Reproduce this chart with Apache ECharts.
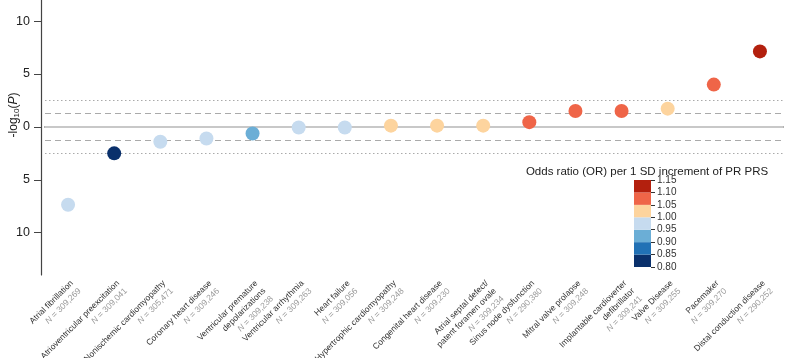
<!DOCTYPE html>
<html>
<head>
<meta charset="utf-8">
<script src="https://cdn.jsdelivr.net/npm/echarts@6/dist/echarts.min.js"></script>
<style>
html,body{margin:0;padding:0;background:#fff;}
#main{width:789px;height:358px;}
</style>
</head>
<body>
<div id="main"></div>
<script>
var categories = [
	'Atrial fibrillation',
	'Atrioventricular preexcitation',
	'Nonischemic cardiomyopathy',
	'Coronary heart disease',
	'Ventricular premature\ndepolarizations',
	'Ventricular arrhythmia',
	'Heart failure',
	'Hypertrophic cardiomyopathy',
	'Congenital heart disease',
	'Atrial septal defect/\npatent foramen ovale',
	'Sinus node dysfunction',
	'Mitral valve prolapse',
	'Implantable cardioverter\ndefibrillator',
	'Valve Disease',
	'Pacemaker',
	'Distal conduction disease'
];
var sampleN = ['309,269', '309,041', '305,471', '309,246', '309,238', '309,263', '309,056', '309,248',
	'309,230', '309,234', '290,380', '309,248', '309,241', '309,255', '309,270', '290,252'];
// signed -log10(p): negative = OR below 1
var logP = [-7.36, -2.5, -1.4, -1.1, -0.62, -0.05, -0.05, 0.12, 0.12, 0.12, 0.45, 1.5, 1.5, 1.73, 4.0, 7.14];
var oddsRatio = [0.97, 0.82, 0.97, 0.98, 0.92, 0.99, 0.99, 1.01, 1.01, 1.01, 1.07, 1.07, 1.07, 1.02, 1.08, 1.12];

var yTicks = [-10, -5, 0, 5, 10];
var pNominal = 1.3;    // p = 0.05
var pBonf = 2.53;      // bonferroni
var orBreaks = [0.80, 0.85, 0.90, 0.95, 1.00, 1.05, 1.10, 1.15];
var orColors = ['#0a306b', '#2171b5', '#6baed6', '#c6dbef', '#fdd49e', '#ef6548', '#b3200e'];

(function(){
	var myChart = echarts.init(document.getElementById('main'));

	var pieces = [];
	for (var i = 0; i < orColors.length; i++) {
		pieces.push({ gte: orBreaks[i], lt: orBreaks[i + 1], color: orColors[i] });
	}

	var points = logP.map(function (v, i) { return [i, v, oddsRatio[i]]; });

	// colour bar made of stacked bars in a small grid
	var barSeries = orColors.map(function (c, i) {
		return {
			type: 'bar',
			xAxisIndex: 1,
			yAxisIndex: 1,
			stack: 'cb',
			barWidth: '100%',
			silent: true,
			itemStyle: { color: c },
			data: [i === 0 ? orBreaks[1] : +(orBreaks[i + 1] - orBreaks[i]).toFixed(2)]
		};
	});

	var option = {
		animation: false,
		title: {
			text: 'Odds ratio (OR) per 1 SD increment of PR PRS',
			left: 642,
			top: 161,
			textAlign: 'center',
			textStyle: { fontSize: 11.5, fontWeight: 'normal', color: '#222', fontFamily: 'Liberation Sans' }
		},
		grid: [
			{ left: 45, right: 6, top: 0, bottom: 83, outerBoundsMode: 'none', containLabel: false },
			{ left: 634, width: 17, top: 180, height: 87, outerBoundsMode: 'none', containLabel: false }
		],
		visualMap: {
			show: false,
			type: 'piecewise',
			dimension: 2,
			seriesIndex: 0,
			pieces: pieces
		},
		xAxis: [
			{
				type: 'category',
				data: categories,
				axisLine: { lineStyle: { color: '#999', width: 2 } },
				axisTick: { show: false },
				axisLabel: {
					interval: 0,
					rotate: 45,
					margin: 3,
					align: 'right',
					verticalAlign: 'top',
					lineHeight: 11,
					formatter: function (v, i) {
						var lines = v.split('\n').map(function (s) { return '{a|' + s + '}'; });
						return lines.join('\n') + '\n{n|N}{b| = ' + sampleN[i] + '}';
					},
					rich: {
						a: { fontSize: 8.5, color: '#333', fontFamily: 'Liberation Sans', lineHeight: 11 },
						n: { fontSize: 8.5, color: '#9a9a9a', fontStyle: 'italic', fontFamily: 'Liberation Sans', lineHeight: 11 },
						b: { fontSize: 8.5, color: '#9a9a9a', fontFamily: 'Liberation Sans', lineHeight: 11 }
					}
				}
			},
			{
				type: 'category',
				gridIndex: 1,
				data: ['OR'],
				show: false
			}
		],
		yAxis: [
			{
				type: 'value',
				min: -14,
				max: 12,
				offset: 4,
				name: '-log{s|10}({i|P})',
				nameLocation: 'middle',
				nameGap: 20,
				nameMoveOverlap: false,
				nameTextStyle: {
					fontSize: 12,
					color: '#222',
					fontFamily: 'Liberation Sans',
					padding: [0, 0, 0, 45],
					rich: {
						s: { fontSize: 8, padding: [7, 0, 0, 0], color: '#222', fontFamily: 'Liberation Sans' },
						i: { fontSize: 12, fontStyle: 'italic', color: '#222', fontFamily: 'Liberation Sans' }
					}
				},
				splitLine: { show: false },
				axisLine: { show: true, lineStyle: { color: '#444', width: 1.2 } },
				axisTick: { show: true, length: 7, customValues: yTicks, lineStyle: { color: '#444' } },
				axisLabel: {
					customValues: yTicks,
					fontSize: 12.5,
					color: '#222',
					margin: 11,
					fontFamily: 'Liberation Sans',
					formatter: function (v) { return Math.abs(v); }
				}
			},
			{
				type: 'value',
				gridIndex: 1,
				min: orBreaks[0],
				max: orBreaks[orBreaks.length - 1],
				position: 'right',
				splitLine: { show: false },
				axisLine: { show: false },
				axisTick: { show: true, inside: false, length: 4, customValues: orBreaks, lineStyle: { color: '#333' } },
				axisLabel: {
					customValues: orBreaks,
					fontSize: 10,
					color: '#333',
					margin: 6,
					fontFamily: 'Liberation Sans',
					formatter: function (v) { return v.toFixed(2); }
				}
			}
		],
		series: [
			{
				type: 'scatter',
				symbolSize: 14,
				itemStyle: { opacity: 1 },
				data: points,
				z: 5,
				markLine: {
					silent: true,
					symbol: 'none',
					label: { show: false },
					data: [
						{ yAxis: 0, lineStyle: { color: '#c8c8c8', width: 2, type: 'solid' } },
						{ yAxis: pNominal, lineStyle: { color: '#aaa', width: 1.2, type: [6, 4] } },
						{ yAxis: -pNominal, lineStyle: { color: '#aaa', width: 1.2, type: [6, 4] } },
						{ yAxis: pBonf, lineStyle: { color: '#aaa', width: 1, type: [1.5, 2.5] } },
						{ yAxis: -pBonf, lineStyle: { color: '#aaa', width: 1, type: [1.5, 2.5] } }
					]
				}
			}
		].concat(barSeries)
	};
	myChart.setOption(option);
	window.addEventListener('resize', function () {
		myChart.resize();
	});
})();
</script>
</body>
</html>
